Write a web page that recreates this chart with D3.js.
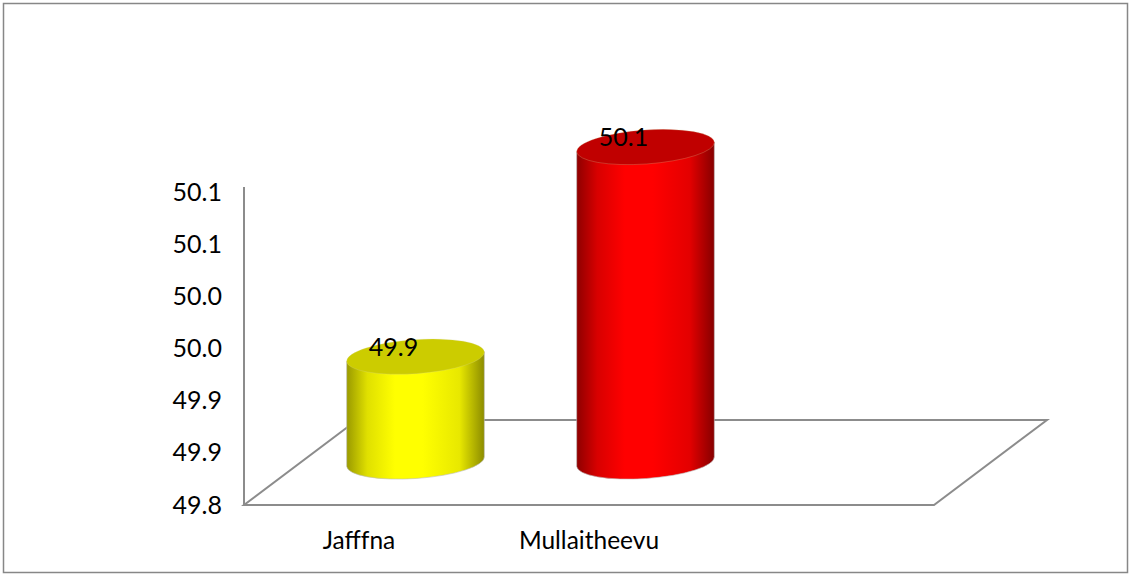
<!DOCTYPE html>
<html>
<head>
<meta charset="utf-8">
<script src="https://cdn.jsdelivr.net/npm/d3@7"></script>
<style>
  body { margin: 0; background: #fff; }
  text { font-family: Lato, "Open Sans", sans-serif; fill: #000; }
</style>
</head>
<body>
<div id="chart"></div>
<script>
// chart data
var categories = ["Jafffna", "Mullaitheevu", ""];
var values = [49.9, 50.1, null];
var colors = ["yellow", "red"];
var tickValues = [49.8, 49.85, 49.9, 49.95, 50.0, 50.05, 50.1];

var width = 1131, height = 576;

// front plane of the 3d box and its depth offset
var left = 244, right = 934, floorY = 505;
var depthX = 113, depthY = -85;

// excel style rounding (half up)
var fmt = function(v) { return (Math.round(v * 10 + 1e-6) / 10).toFixed(1); };

var svg = d3.select("#chart").append("svg")
  .attr("width", width)
  .attr("height", height);

var defs = svg.append("defs");

// side shading, one gradient per colour
var shades = {
  yellow: { stops: ["#9a9a00", "#e0e000", "#ffff00", "#ffff00", "#e8e800", "#8c8c00"], top: "#cccc00" },
  red: { stops: ["#8e0000", "#d80000", "#ff0000", "#ff0000", "#e40000", "#860000"], top: "#c00000" }
};
var offsets = [0, 0.15, 0.35, 0.55, 0.82, 1];

Object.keys(shades).forEach(function(key) {
  var grad = defs.append("linearGradient")
    .attr("id", "side-" + key)
    .attr("x1", "0%").attr("x2", "100%")
    .attr("y1", "0%").attr("y2", "0%");
  shades[key].stops.forEach(function(c, i) {
    grad.append("stop").attr("offset", offsets[i]).attr("stop-color", c);
  });
});

// outer border
svg.append("rect")
  .attr("x", 3.5).attr("y", 3.5)
  .attr("width", width - 7).attr("height", height - 7)
  .attr("fill", "none")
  .attr("stroke", "#878787")
  .attr("stroke-width", 1.5);

var x = d3.scaleBand()
  .domain(categories)
  .range([left, right]);

var y = d3.scaleLinear()
  .domain([49.8, 50.1])
  .range([floorY, 192]);

// cylinders sit halfway into the depth, on their own (slightly shifted) scale
var yc = d3.scaleLinear()
  .domain([49.8, 50.1])
  .range([floorY + depthY / 2 - 1, 147]);

// floor
var g = svg.append("g");
g.append("path")
  .attr("d", "M" + left + "," + floorY +
    "L" + right + "," + floorY +
    "L" + (right + depthX) + "," + (floorY + depthY) +
    "L" + (left + depthX) + "," + (floorY + depthY) + "Z")
  .attr("fill", "none")
  .attr("stroke", "#8c8c8c")
  .attr("stroke-width", 2);

// vertical axis line
g.append("line")
  .attr("x1", left).attr("x2", left)
  .attr("y1", y(50.1) - 5).attr("y2", floorY)
  .attr("stroke", "#8c8c8c")
  .attr("stroke-width", 2);

var yAxis = d3.axisLeft(y)
  .tickValues(tickValues)
  .tickSize(0)
  .tickPadding(22)
  .tickFormat(fmt);

var ya = svg.append("g")
  .attr("transform", "translate(" + left + ",0)")
  .call(yAxis);
ya.select(".domain").remove();
ya.selectAll("text")
  .style("font-family", "Lato, 'Open Sans', sans-serif")
  .style("font-size", "25px")
  .attr("fill", "#000");

// category labels on the front edge
svg.append("g").selectAll("text")
  .data(categories)
  .enter().append("text")
  .attr("x", function(d) { return x(d) + x.bandwidth() / 2; })
  .attr("y", 549)
  .attr("text-anchor", "middle")
  .style("font-size", "24.5px")
  .text(function(d) { return d; });

// cylinders
var rx = x.bandwidth() * 0.3, ry = 17, tilt = -4;
var rad = tilt * Math.PI / 180;
var ex = rx * Math.cos(rad), ey = rx * Math.sin(rad);

var bars = categories.map(function(c, i) {
  return { cat: c, value: values[i], color: colors[i] };
}).filter(function(d) { return d.value != null; });

var cyl = svg.append("g").selectAll("g")
  .data(bars)
  .enter().append("g");

function cx(d) { return x(d.cat) + x.bandwidth() / 2 + depthX / 2; }

cyl.append("path")
  .attr("d", function(d) {
    var c = cx(d), b = yc(49.8), t = yc(d.value);
    return "M" + (c - ex) + "," + (t - ey) +
      "L" + (c - ex) + "," + (b - ey) +
      "A" + rx + "," + ry + " " + tilt + " 0 0 " + (c + ex) + "," + (b + ey) +
      "L" + (c + ex) + "," + (t + ey) + "Z";
  })
  .attr("fill", function(d) { return "url(#side-" + d.color + ")"; })
  .attr("stroke", "#bdbdbd")
  .attr("stroke-width", 0.6);

cyl.append("ellipse")
  .attr("transform", function(d) {
    return "translate(" + cx(d) + "," + yc(d.value) + ") rotate(" + tilt + ")";
  })
  .attr("rx", rx)
  .attr("ry", ry)
  .attr("fill", function(d) { return shades[d.color].top; })
  .attr("stroke", "#d6d6a0")
  .attr("stroke-opacity", 0.4)
  .attr("stroke-width", 0.6);

// data labels
cyl.append("text")
  .attr("x", function(d) { return cx(d) - 22; })
  .attr("y", function(d) { return yc(d.value) - 1; })
  .attr("text-anchor", "middle")
  .style("font-size", "25px")
  .text(function(d) { return fmt(d.value); });
</script>
</body>
</html>
